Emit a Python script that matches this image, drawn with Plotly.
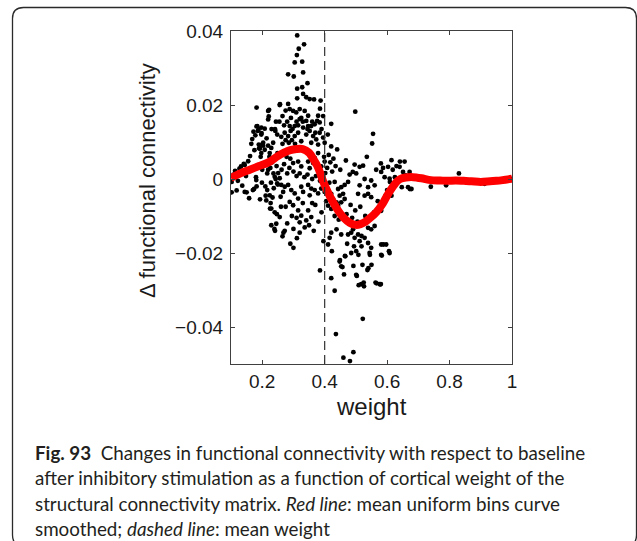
import plotly.graph_objects as go

# ---------------- data ----------------
scatter_points = [
    # x 0.10-0.15
    (0.102,-0.0008),(0.102,-0.0036),(0.108,0.0012),(0.113,0.0022),(0.118,-0.0031),(0.122,-0.0005),
    (0.127,0.0028),(0.132,0.0034),(0.136,-0.0018),(0.141,0.0041),(0.144,0.0038),(0.144,-0.0035),
    (0.148,0.0008),(0.150,-0.0036),
    # x 0.15-0.20
    (0.155,0.0048),(0.158,-0.0052),(0.161,0.0062),(0.165,0.0095),(0.168,0.0108),(0.170,-0.0030),
    (0.172,0.0128),(0.174,-0.0027),(0.175,0.0078),(0.178,0.0118),(0.180,0.0005),(0.181,-0.0003),
    (0.182,-0.0020),(0.182,0.0193),(0.182,0.0142),(0.184,0.0143),(0.186,0.0130),(0.188,0.0133),
    (0.189,0.0093),(0.190,0.0083),(0.192,0.0084),(0.192,0.0082),(0.193,-0.0055),(0.195,0.0060),
    (0.197,0.0070),(0.197,0.0120),(0.197,0.0139),(0.198,0.0124),(0.199,-0.0010),(0.200,0.0093),
    (0.200,0.0025),
    # x 0.20-0.25
    (0.203,0.0098),(0.203,0.0090),(0.206,0.0040),(0.208,0.0136),(0.208,0.0079),(0.210,-0.0020),
    (0.211,-0.0045),(0.213,-0.0058),(0.214,0.0110),(0.216,-0.0030),(0.216,0.0015),(0.219,0.0090),
    (0.219,0.0184),(0.219,0.0161),(0.219,0.0025),(0.221,0.0169),(0.222,0.0187),(0.223,0.0060),
    (0.224,0.0070),(0.224,-0.0044),(0.225,-0.0080),(0.226,0.0030),(0.227,-0.0065),(0.228,-0.0010),
    (0.229,0.0084),(0.229,-0.0080),(0.229,-0.0125),(0.230,0.0135),(0.232,0.0045),(0.233,-0.0050),
    (0.235,0.0098),(0.236,0.0015),(0.237,-0.0025),(0.239,-0.0135),(0.240,0.0006),(0.240,-0.0090),
    (0.241,-0.0140),(0.241,0.0135),(0.242,0.0130),(0.243,0.0000),(0.244,0.0155),(0.245,-0.0121),
    (0.246,0.0035),(0.247,-0.0095),(0.248,0.0120),(0.248,-0.0012),(0.249,0.0070),(0.250,-0.0015),
    # x 0.25-0.30
    (0.251,0.0016),(0.255,0.0155),(0.256,0.0200),(0.256,0.0002),(0.256,-0.0103),(0.257,0.0202),
    (0.259,-0.0048),(0.260,0.0065),(0.260,-0.0075),(0.261,0.0114),(0.261,-0.0016),(0.262,0.0025),
    (0.265,0.0095),(0.265,0.0170),(0.265,-0.0155),(0.267,-0.0035),(0.268,-0.0145),(0.270,0.0145),
    (0.270,0.0040),(0.272,0.0125),(0.272,-0.0021),(0.272,-0.0140),(0.275,0.0105),(0.275,0.0185),
    (0.275,-0.0075),(0.278,0.0060),(0.280,0.0155),(0.280,0.0015),(0.280,-0.0120),(0.283,0.0283),
    (0.283,0.0203),(0.283,0.0116),(0.283,-0.0016),(0.285,0.0098),(0.287,0.0030),(0.288,0.0189),
    (0.288,0.0143),(0.288,-0.0062),(0.290,0.0055),(0.290,-0.0175),(0.291,0.0130),(0.292,0.0165),
    (0.293,-0.0030),(0.295,0.0105),(0.295,-0.0100),(0.297,0.0135),(0.299,0.0184),(0.299,0.0043),
    (0.299,-0.0071),(0.300,0.0020),(0.300,-0.0135),(0.300,-0.0186),(0.301,0.0277),
    # x 0.30-0.35
    (0.304,0.0315),(0.304,0.0143),(0.304,0.0116),(0.304,-0.0039),(0.305,0.0095),(0.309,0.0180),
    (0.310,0.0008),(0.310,-0.0105),(0.310,0.0155),(0.311,0.0335),(0.311,-0.0160),(0.312,0.0388),
    (0.312,0.0244),(0.312,0.0218),(0.315,0.0145),(0.315,0.0125),(0.315,0.0047),(0.315,-0.0053),
    (0.315,-0.0085),(0.317,0.0352),(0.320,0.0189),(0.320,0.0162),(0.320,0.0015),(0.320,-0.0117),
    (0.320,-0.0145),(0.325,0.0165),(0.325,0.0102),(0.325,0.0034),(0.325,-0.0021),(0.325,-0.0099),
    (0.328,0.0317),(0.328,0.0248),(0.330,0.0155),(0.330,-0.0065),(0.331,0.0288),(0.331,0.0230),
    (0.331,0.0139),(0.331,-0.0035),(0.334,0.0364),(0.335,0.0005),(0.336,0.0184),(0.336,-0.0131),
    (0.341,0.0221),(0.341,0.0157),(0.341,0.0120),(0.341,-0.0112),(0.345,0.0259),(0.345,0.0135),
    (0.345,0.0012),(0.347,0.0171),(0.347,0.0143),(0.347,0.0047),(0.347,-0.0016),(0.347,-0.0085),
    (0.350,-0.0125),
    # x 0.35-0.40
    (0.352,0.0216),(0.352,0.0130),(0.352,0.0029),(0.352,-0.0044),(0.357,0.0143),(0.357,0.0098),
    (0.357,-0.0026),(0.357,-0.0103),(0.360,0.0155),(0.360,0.0000),(0.360,-0.0065),(0.363,0.0116),
    (0.363,0.0043),(0.365,-0.0140),(0.366,0.0215),(0.368,0.0148),(0.368,0.0057),(0.368,-0.0030),
    (0.370,0.0125),(0.370,-0.0070),(0.372,0.0008),(0.373,0.0107),(0.376,0.0157),(0.379,0.0171),
    (0.379,0.0093),(0.379,0.0070),(0.379,-0.0039),(0.380,-0.0115),(0.384,0.0153),(0.384,0.0125),
    (0.384,0.0025),(0.385,0.0190),(0.385,-0.0005),(0.385,-0.0247),(0.387,0.0212),(0.389,0.0034),
    (0.389,-0.0026),(0.390,0.0135),(0.390,-0.0090),(0.395,0.0112),(0.395,0.0170),(0.395,0.0005),
    (0.396,-0.0168),(0.398,0.0060),(0.400,0.0098),(0.400,0.0047),(0.400,-0.0035),
    # x 0.40-0.45
    (0.402,0.0016),(0.405,-0.0060),(0.408,0.0030),(0.410,0.0120),(0.411,-0.0072),(0.411,-0.0177),
    (0.413,0.0065),(0.415,-0.0010),(0.416,-0.0159),(0.418,0.0045),(0.421,0.0149),(0.421,0.0088),
    (0.421,-0.0040),(0.421,-0.0081),(0.421,-0.0145),(0.421,-0.0268),(0.423,-0.0195),(0.424,0.0020),
    (0.427,-0.0054),(0.428,0.0055),(0.432,-0.0008),(0.432,-0.0100),(0.432,-0.0302),(0.435,0.0035),
    (0.436,-0.0419),(0.438,-0.0063),(0.438,-0.0136),(0.440,0.0080),(0.443,-0.0027),(0.443,-0.0072),
    (0.445,-0.0110),(0.448,-0.0045),(0.448,-0.0223),(0.449,-0.0219),(0.450,0.0025),
    # x 0.45-0.50
    (0.453,-0.0022),(0.453,-0.0063),(0.453,-0.0150),(0.453,-0.0236),(0.457,-0.0238),(0.459,-0.0040),
    (0.460,-0.0483),(0.462,-0.0258),(0.464,-0.0054),(0.464,-0.0016),(0.465,-0.0208),(0.466,-0.0209),
    (0.468,0.0050),(0.470,-0.0095),(0.472,-0.0175),(0.475,-0.0008),(0.475,-0.0150),(0.478,-0.0120),
    (0.480,0.0012),(0.481,-0.0492),(0.483,-0.0070),(0.485,-0.0145),(0.485,-0.0200),(0.488,-0.0105),
    (0.490,0.0019),(0.491,-0.0136),(0.492,-0.0235),(0.492,-0.0468),(0.494,-0.0182),(0.496,0.0039),
    (0.496,-0.0159),(0.498,0.0182),(0.498,-0.0085),
    # x 0.50-0.55
    (0.501,0.0015),(0.501,-0.0195),(0.501,-0.0259),(0.503,-0.0262),(0.505,-0.0115),(0.507,-0.0040),
    (0.507,-0.0150),(0.508,-0.0205),(0.509,-0.0287),(0.512,0.0033),(0.512,-0.0017),(0.512,-0.0168),
    (0.514,-0.0075),(0.517,-0.0284),(0.518,-0.0154),(0.518,-0.0182),(0.521,-0.0232),(0.522,-0.0378),
    (0.523,0.0036),(0.525,-0.0280),(0.526,-0.0290),(0.528,0.0000),(0.528,-0.0045),(0.528,-0.0159),
    (0.530,-0.0100),(0.535,0.0060),(0.537,-0.0246),(0.539,-0.0040),(0.539,-0.0022),(0.539,-0.0132),
    (0.539,-0.0173),(0.540,-0.0241),(0.544,-0.0200),(0.545,-0.0205),(0.549,-0.0004),(0.549,-0.0049),
    (0.549,-0.0136),(0.549,-0.0186),(0.550,-0.0232),
    # x 0.55-0.60
    (0.552,0.0096),(0.555,0.0122),(0.558,-0.0090),(0.560,-0.0017),(0.560,-0.0127),(0.563,-0.0280),
    (0.565,0.0025),(0.566,-0.0282),(0.570,-0.0060),(0.576,-0.0284),(0.577,-0.0085),(0.578,-0.0285),
    (0.580,0.0042),(0.580,-0.0284),(0.581,0.0019),(0.581,-0.0086),(0.581,-0.0177),(0.581,-0.0205),
    (0.583,-0.0207),(0.587,0.0030),(0.588,-0.0177),(0.592,0.0005),(0.595,-0.0045),(0.597,-0.0177),
    (0.600,-0.0030),
    # x 0.60-1.00
    (0.603,0.0033),(0.606,-0.0195),(0.608,0.0001),(0.608,-0.0200),(0.609,-0.0008),(0.614,0.0051),
    (0.614,-0.0045),(0.618,0.0025),(0.625,0.0005),(0.630,0.0035),(0.640,0.0033),(0.641,0.0047),
    (0.647,-0.0022),(0.651,0.0019),(0.656,0.0047),(0.660,0.0010),(0.667,-0.0022),(0.672,0.0019),
    (0.673,-0.0027),(0.678,-0.0027),(0.740,-0.0021),(0.789,-0.0017),(0.830,0.0015),(0.912,-0.0013),
    (1.000,0.0000),
]
weight = [p[0] for p in scatter_points]
delta_fc = [p[1] for p in scatter_points]

curve_weight = [0.10,0.13,0.16,0.19,0.22,0.25,0.27,0.29,0.31,0.33,0.35,0.365,0.375,0.385,0.395,
                0.41,0.427,0.445,0.46,0.48,0.50,0.515,0.53,0.546,0.565,0.587,0.60,0.615,0.63,
                0.642,0.66,0.683,0.71,0.74,0.77,0.79,0.82,0.845,0.87,0.90,0.93,0.95,0.97,1.0]
curve_delta = [0.0003,0.0015,0.0025,0.0035,0.0045,0.0062,0.0071,0.0078,0.0081,0.0081,0.0071,
               0.0052,0.0038,0.0018,-0.0006,-0.0035,-0.0063,-0.0088,-0.0104,-0.0118,-0.0124,
               -0.0122,-0.0116,-0.0105,-0.0090,-0.0065,-0.0045,-0.0025,-0.0008,0.0000,0.0004,
               0.0005,0.0002,-0.0003,-0.0004,-0.0005,-0.0004,-0.0005,-0.0006,-0.0008,-0.0006,
               -0.0005,-0.0003,0.0001]

mean_weight = 0.4

x_tickvals = [0.2, 0.4, 0.6, 0.8, 1.0]
x_ticktext = ["0.2", "0.4", "0.6", "0.8", "1"]
y_tickvals = [0.04, 0.02, 0.0, -0.02, -0.04]
y_ticktext = ["0.04", "0.02", "0", "\u22120.02", "\u22120.04"]

caption_lines = [
    "<b>Fig. 93</b>  Changes in functional connectivity with respect to baseline",
    "after inhibitory stimulation as a function of cortical weight of the",
    "structural connectivity matrix. <i>Red line</i>: mean uniform bins curve",
    "smoothed; <i>dashed line</i>: mean weight",
]

# ---------------- layout geometry (pixels) ----------------
W, H = 637, 541
L, R, T, B = 231, 512, 31, 364
PW, PH = R - L, B - T


def px(xp):
    return (xp - L) / PW


def py(yp):
    return (B - yp) / PH


fig = go.Figure()
fig.add_trace(go.Scatter(x=weight, y=delta_fc, mode="markers",
                         marker=dict(color="black", size=4.8, line=dict(width=0)),
                         showlegend=False, hoverinfo="skip"))
fig.add_trace(go.Scatter(x=curve_weight, y=curve_delta, mode="lines",
                         line=dict(color="#ff0000", width=8, shape="spline", smoothing=0.8),
                         showlegend=False, hoverinfo="skip"))

tick_font = dict(family="Liberation Sans, Arial, sans-serif", size=19, color="#1a1a1a")
axis_common = dict(showgrid=False, zeroline=False, showline=True, linecolor="#404040",
                   linewidth=1, mirror="ticks", ticks="inside", ticklen=4, tickcolor="#404040",
                   tickfont=tick_font)

fig.update_xaxes(range=[0.1, 1.0], tickvals=x_tickvals, ticktext=x_ticktext, **axis_common)
fig.update_yaxes(range=[-0.05, 0.04], tickvals=y_tickvals, ticktext=y_ticktext,
                 ticklabelstandoff=3, **axis_common)

shapes = [
    dict(type="line", xref="x", yref="paper", x0=mean_weight, x1=mean_weight, y0=0, y1=1,
         line=dict(color="#333333", width=1.2, dash="9px,5px")),
]

# rounded caption box
bl, bt, br, bb, r = 12.5, 7.5, 636.5, 546, 11
path = (f"M {px(bl)},{py(bt + r)} Q {px(bl)},{py(bt)} {px(bl + r)},{py(bt)} "
        f"L {px(br - r)},{py(bt)} Q {px(br)},{py(bt)} {px(br)},{py(bt + r)} "
        f"L {px(br)},{py(bb - r)} Q {px(br)},{py(bb)} {px(br - r)},{py(bb)} "
        f"L {px(bl + r)},{py(bb)} Q {px(bl)},{py(bb)} {px(bl)},{py(bb - r)} Z")
shapes.append(dict(type="path", xref="paper", yref="paper", path=path,
                   line=dict(color="#2a2a2a", width=1.3), layer="below"))

annotations = [
    dict(text="weight", xref="paper", yref="paper", x=px(371), y=py(406),
         xanchor="center", yanchor="middle", showarrow=False,
         font=dict(family="Liberation Sans, Arial, sans-serif", size=24, color="#1a1a1a")),
    dict(text="\u0394 functional connectivity", xref="paper", yref="paper", x=px(148), y=py(181),
         xanchor="center", yanchor="middle", showarrow=False, textangle=-90,
         font=dict(family="Liberation Sans, Arial, sans-serif", size=22, color="#1a1a1a")),
]
line_y = [452, 477, 503, 528]
for txt, yy in zip(caption_lines, line_y):
    annotations.append(dict(text=txt, xref="paper", yref="paper", x=px(33), y=py(yy),
                            xanchor="left", yanchor="middle", showarrow=False, align="left",
                            font=dict(family="Lato, sans-serif", size=18.8, color="#231f20")))

fig.update_layout(width=W, height=H, margin=dict(l=L, r=W - R, t=T, b=H - B, pad=0),
                  plot_bgcolor="white", paper_bgcolor="white",
                  shapes=shapes, annotations=annotations)

fig.write_html("out.html", config={"displayModeBar": False},
               post_script="document.body.style.margin='0px';")
